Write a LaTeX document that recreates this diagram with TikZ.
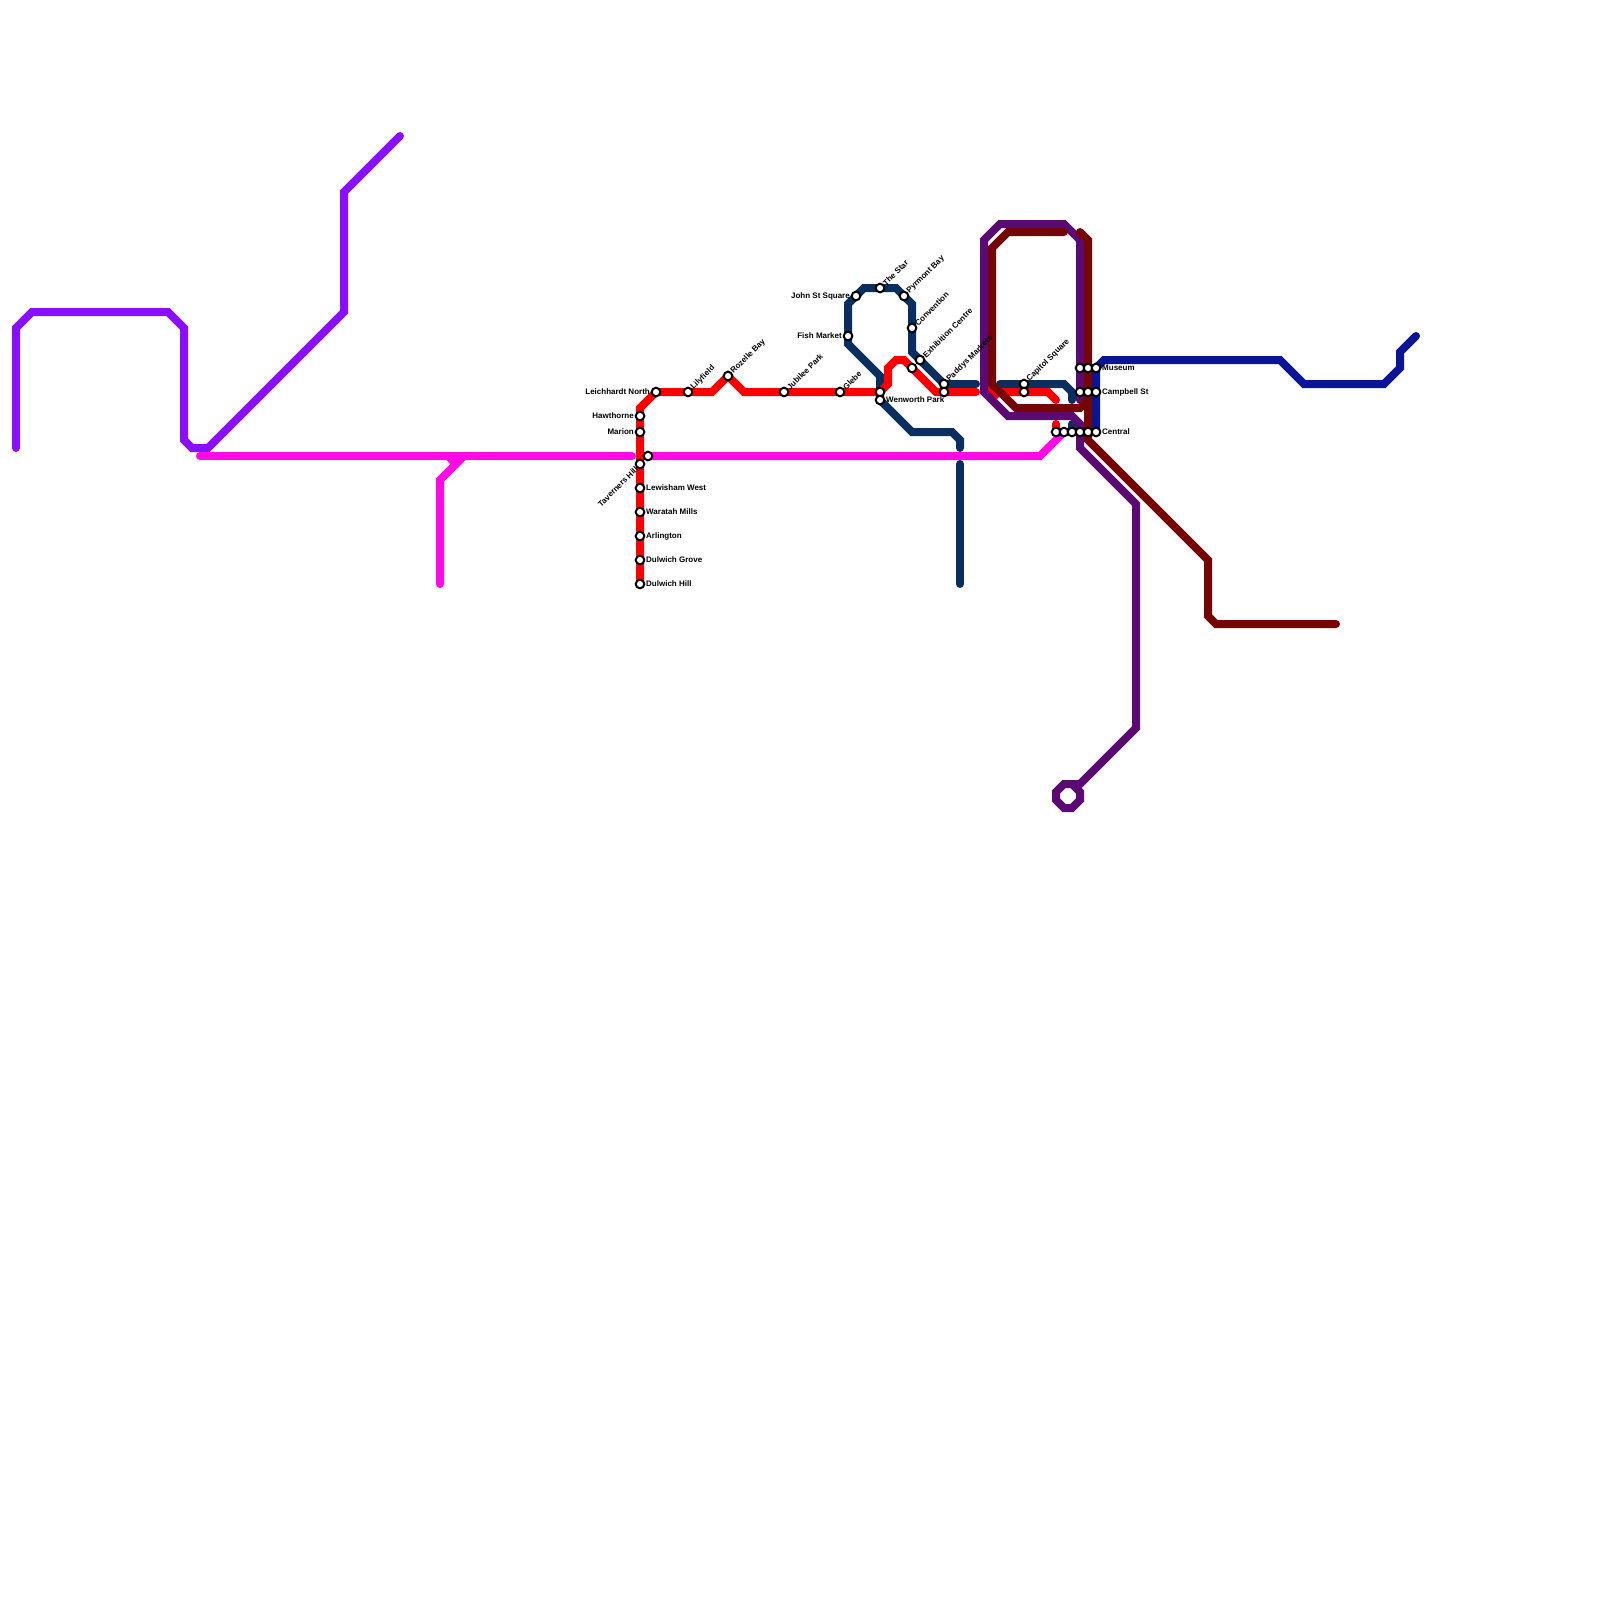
\documentclass[tikz,border=0pt]{standalone}
\usepackage{fontspec}
\setmainfont{Liberation Sans}
\definecolor{cviolet}{HTML}{8A0EFF}
\definecolor{cmagenta}{HTML}{FF0AE6}
\definecolor{cred}{HTML}{FF0000}
\definecolor{cnavy}{HTML}{0A2E60}
\definecolor{cblue}{HTML}{0A1496}
\definecolor{cmaroon}{HTML}{750606}
\definecolor{cpurple}{HTML}{5B0A73}
\tikzset{
  metro/.style={line width=8pt,line cap=round,line join=miter,miter limit=10},
  stn/.style={circle,draw=black,fill=white,line width=2pt,minimum size=8.6pt,inner sep=0pt},
  lbl/.style={font=\bfseries\fontsize{8}{9}\selectfont,text=black,inner sep=0pt},
  lr/.style={lbl,anchor=west,xshift=6pt},
  ll/.style={lbl,anchor=east,xshift=-6pt},
  lu/.style={lbl,anchor=west,rotate=45,xshift=5.4pt,yshift=-0.4pt},
  ld/.style={lbl,anchor=east,rotate=45,xshift=-5.4pt,yshift=-0.4pt}
}
\begin{document}
\begin{tikzpicture}[x=1pt,y=-1pt]
\useasboundingbox (0,0) rectangle (1600,1600);
\fill[white] (0,0) rectangle (1600,1600);
% station positions
\foreach \n/\x/\y in {
  leich/656/392,lily/688/392,roz/728/376,jub/784/392,glebe/840/392,
  haw/640/416,mar/640/432,tav/640/464,lew/640/488,war/640/512,arl/640/536,dgr/640/560,dhi/640/584,
  mag/648/456,
  wena/880/392,wenb/880/400,john/856/296,star/880/288,pyr/904/296,conv/912/328,exh/920/360,fish/848/336,redt/912/368,
  pada/944/384,padb/944/392,capa/1024/384,capb/1024/392,
  muma/1080/368,mumb/1088/368,mumc/1096/368,
  cama/1080/392,camb/1088/392,camc/1096/392,
  cena/1056/432,cenb/1064/432,cenc/1072/432,cend/1080/432,cene/1088/432,cenf/1096/432}
  {\coordinate (\n) at (\x,\y);}
% violet
\draw[metro,cviolet] (16,448) -- (16,328) -- (32,312) -- (168,312) -- (184,328) -- (184,440) -- (192,448) -- (208,448) -- (344,312) -- (344,192) -- (400,136);
% magenta
\draw[metro,cmagenta] (200,456) -- (632,456);
\draw[metro,cmagenta,line cap=butt] (448,456) -- (456,464);
\draw[metro,cmagenta] (440,584) -- (440,480) -- (464,456);
\draw[metro,cmagenta] (mag) -- (1040,456) -- (1064,432);
% navy
\draw[metro,cnavy] (976,384) -- (pada) -- (912,352) -- (912,304) -- (896,288) -- (864,288) -- (848,304) -- (848,344) -- (880,376) -- (wenb) -- (912,432) -- (952,432) -- (960,440) -- (960,448);
\draw[metro,cnavy] (960,464) -- (960,584);
\draw[metro,cnavy] (1000,384) -- (1064,384) -- (1072,392) -- (1072,400);
\draw[metro,cnavy] (1072,424) -- (cenc);
% red
\draw[metro,cred] (dhi) -- (640,408) -- (leich) -- (712,392) -- (roz) -- (744,392) -- (wena) -- (888,384) -- (888,368) -- (896,360) -- (904,360) -- (redt) -- (936,392) -- (976,392);
\draw[metro,cred] (1000,392) -- (1048,392) -- (1056,400);
\draw[metro,cred,line cap=butt] (988,386) -- (999,397);
\draw[metro,cred] (1056,424) -- (cena);
% blue
\draw[metro,cblue] (cenf) -- (1096,368) -- (1104,360) -- (1280,360) -- (1304,384) -- (1384,384) -- (1400,368) -- (1400,352) -- (1416,336);
% purple
\draw[metro,cpurple] (1080,400) -- (1080,240) -- (1064,224) -- (1000,224) -- (984,240) -- (984,392) -- (1008,416) -- (1072,416) -- (1080,424) -- (1080,448) -- (1136,504) -- (1136,728) -- (1080,784) -- (1072,784);
\draw[metro,cpurple] (1064,784) -- (1072,784) -- (1080,792) -- (1080,800) -- (1072,808) -- (1064,808) -- (1056,800) -- (1056,792) -- cycle;
% maroon
\draw[metro,cmaroon] (1064,232) -- (1008,232) -- (992,248) -- (992,384) -- (1016,408) -- (1080,408) -- (1088,400);
\draw[metro,cmaroon] (1080,232) -- (1088,240) -- (1088,440) -- (1208,560) -- (1208,616) -- (1216,624) -- (1336,624);
% stations
\foreach \n in {leich,lily,roz,jub,glebe,haw,mar,tav,lew,war,arl,dgr,dhi,mag,wena,wenb,john,star,pyr,conv,exh,fish,redt,pada,padb,capa,capb,muma,mumb,mumc,cama,camb,camc,cena,cenb,cenc,cend,cene,cenf}
  {\node[stn] (s\n) at (\n) {};}
% labels
\node[ll] (tleich) at (leich) {Leichhardt North};
\node[lu] (tlily) at (lily) {Lilyfield};
\node[lu] (troz) at (roz) {Rozelle Bay};
\node[lu] (tjub) at (jub) {Jubilee Park};
\node[lu] (tglebe) at (glebe) {Glebe};
\node[ll] (thaw) at (haw) {Hawthorne};
\node[ll] (tmar) at (mar) {Marion};
\node[ld] (ttav) at (tav) {Taverners Hill};
\node[lr] (tlew) at (lew) {Lewisham West};
\node[lr] (twar) at (war) {Waratah Mills};
\node[lr] (tarl) at (arl) {Arlington};
\node[lr] (tdgr) at (dgr) {Dulwich Grove};
\node[lr] (tdhi) at (dhi) {Dulwich Hill};
\node[lr] (twen) at (wenb) {Wenworth Park};
\node[ll] (tjohn) at (john) {John St Square};
\node[lu] (tstar) at (star) {The Star};
\node[lu] (tpyr) at (pyr) {Pyrmont Bay};
\node[lu] (tconv) at (conv) {Convention};
\node[lu] (texh) at (exh) {Exhibition Centre};
\node[ll] (tfish) at (fish) {Fish Market};
\node[lu] (tpad) at (pada) {Paddys Markets};
\node[lu] (tcap) at (capa) {Capitol Square};
\node[lr] (tmus) at (mumc) {Museum};
\node[lr] (tcam) at (camc) {Campbell St};
\node[lr] (tcen) at (cenf) {Central};
\end{tikzpicture}
\end{document}
